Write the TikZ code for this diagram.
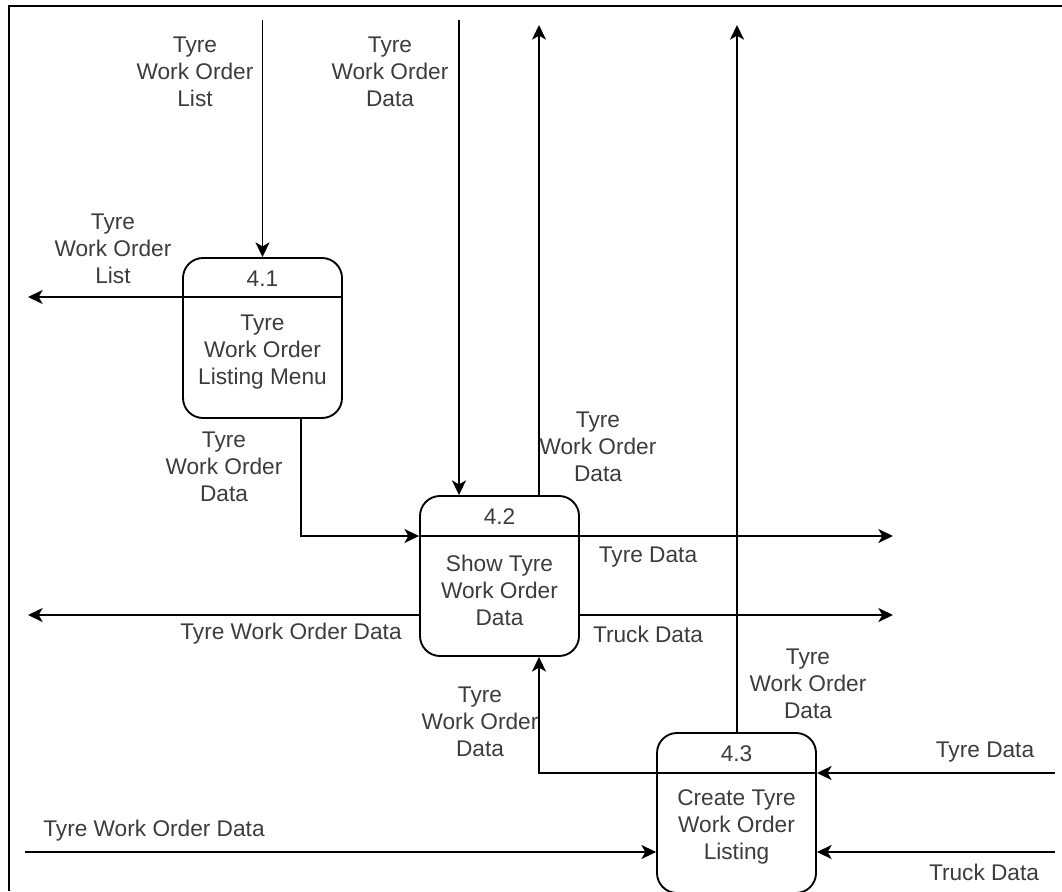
\documentclass[tikz,border=0pt]{standalone}
\usepackage{fontspec}
\setmainfont{Liberation Sans}
\usetikzlibrary{arrows.meta}
\definecolor{txt}{RGB}{60,60,60}
\tikzset{
  proc/.style={draw, line width=1.4pt, rounded corners=15pt, minimum width=119.25pt, minimum height=120pt, inner sep=0pt},
  flow/.style={line width=1.4pt, -{Stealth[length=11pt,width=10.5pt,inset=3pt]}},
  plain/.style={line width=1.4pt},
  lbl/.style={align=center, text=txt, font=\fontsize{17}{20.25}\selectfont, inner sep=0pt},
}
\begin{document}
\begin{tikzpicture}[x=0.75pt,y=-0.75pt]
\useasboundingbox (0,0) rectangle (1062,891);
% frame
\draw[line width=1.4pt] (9,891) -- (9,6) -- (1062,6);
% process boxes
\node[proc] (p1) at (262.5,338) {};
\node[proc] (p2) at (499.5,576) {};
\node[proc] (p3) at (736.5,813) {};
\draw[plain] (p1.west |- 0,297) -- (p1.east |- 0,297);
\draw[plain] (p2.west |- 0,536) -- (p2.east |- 0,536);
\draw[plain] (p3.west |- 0,773) -- (p3.east |- 0,773);
\node[lbl] (n1) at (262.5,279) {4.1};
\node[lbl] (n2) at (499.5,517) {4.2};
\node[lbl] (n3) at (736.5,754) {4.3};
\node[lbl] (t1) at (262.5,352) {Tyre\\Work Order\\Listing Menu};
\node[lbl] (t2) at (499.5,590) {Show Tyre\\Work Order\\Data};
\node[lbl] (t3) at (736.5,827) {Create Tyre\\Work Order\\Listing};
% coordinates
\coordinate (s1) at (262.5,20);
\coordinate (e2) at (28,297);
\coordinate (b3) at (301,536);
\coordinate (s4) at (459,20);
\coordinate (e5) at (539,25);
\coordinate (e6) at (737,25);
\coordinate (e7) at (893,536);
\coordinate (e8) at (893,615);
\coordinate (e9) at (28,615);
\coordinate (b10) at (539,773);
\coordinate (s11) at (1055,773);
\coordinate (s12) at (1055,852);
\coordinate (s13) at (25,852);
% connectors
\draw[flow] (s1) -- (p1.north);
\draw[flow] (p1.west |- e2) -- (e2);
\draw[flow] (p1.south -| b3) -- (b3) -- (p2.west |- b3);
\draw[flow] (s4) -- (p2.north -| s4);
\draw[flow] (p2.north -| e5) -- (e5);
\draw[flow] (p3.north -| e6) -- (e6);
\draw[flow] (p2.east |- e7) -- (e7);
\draw[flow] (p2.east |- e8) -- (e8);
\draw[flow] (p2.west |- e9) -- (e9);
\draw[flow] (p3.west |- b10) -- (b10) -- (p2.south -| b10);
\draw[flow] (s11) -- (p3.east |- s11);
\draw[flow] (s12) -- (p3.east |- s12);
\draw[flow] (s13) -- (p3.west |- s13);
% labels
\node[lbl] (l1) at (195,72) {Tyre\\Work Order\\List};
\node[lbl] (l2) at (113,249) {Tyre\\Work Order\\List};
\node[lbl] (l3) at (224,467) {Tyre\\Work Order\\Data};
\node[lbl] (l4) at (390,72) {Tyre\\Work Order\\Data};
\node[lbl] (l5) at (598,447) {Tyre\\Work Order\\Data};
\node[lbl] (l6) at (808,684) {Tyre\\Work Order\\Data};
\node[lbl] (l7) at (648,557) {Tyre Data};
\node[lbl] (l8) at (648,634) {Truck Data};
\node[lbl] (l9) at (291,634) {Tyre Work Order Data};
\node[lbl] (l10) at (480,722) {Tyre\\Work Order\\Data};
\node[lbl] (l11) at (985,752) {Tyre Data};
\node[lbl] (l12) at (984,872) {Truck Data};
\node[lbl] (l13) at (154,831) {Tyre Work Order Data};
\end{tikzpicture}
\end{document}
